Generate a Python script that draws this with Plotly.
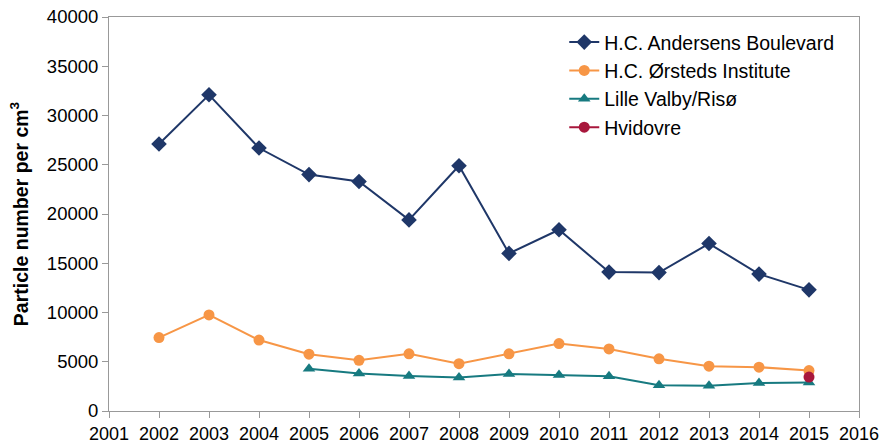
import plotly.graph_objects as go

years = list(range(2002, 2016))
andersens = [27100, 32100, 26700, 24000, 23300, 19400, 24900, 16000, 18400, 14100, 14050, 17000, 13900, 12300]
orsteds = [7450, 9750, 7200, 5770, 5150, 5800, 4800, 5800, 6850, 6300, 5300, 4550, 4450, 4100]
valby_years = list(range(2005, 2016))
valby = [4300, 3800, 3550, 3400, 3750, 3650, 3520, 2620, 2560, 2850, 2900]
hvidovre_years = [2015]
hvidovre = [3450]

fig = go.Figure()
fig.add_trace(go.Scatter(x=years, y=andersens, mode="lines+markers", name="H.C. Andersens Boulevard",
                         line=dict(color="#1f3768", width=2), marker=dict(symbol="diamond", size=12, color="#1f3768")))
fig.add_trace(go.Scatter(x=years, y=orsteds, mode="lines+markers", name="H.C. Ørsteds Institute",
                         line=dict(color="#f79646", width=2), marker=dict(symbol="circle", size=11, color="#f79646")))
fig.add_trace(go.Scatter(x=valby_years, y=valby, mode="lines+markers", name="Lille Valby/Risø",
                         line=dict(color="#177a80", width=2), marker=dict(symbol="triangle-up", size=11, color="#177a80")))
fig.add_trace(go.Scatter(x=hvidovre_years, y=hvidovre, mode="lines+markers", name="Hvidovre",
                         line=dict(color="#a8173c", width=2), marker=dict(symbol="circle", size=11, color="#a8173c")))

fig.update_layout(
    width=880, height=446,
    margin=dict(l=109, r=21, t=17, b=35, autoexpand=False),
    plot_bgcolor="white", paper_bgcolor="white",
    font=dict(family="Liberation Sans, Arial, sans-serif", size=18.5, color="#000000"),
    legend=dict(x=0.607, y=0.985, xanchor="left", yanchor="top", bgcolor="rgba(0,0,0,0)",
                font=dict(size=19.5), tracegroupgap=0, itemwidth=30),
    showlegend=True,
)
fig.update_xaxes(range=[2001, 2016], dtick=1, tick0=2001, showgrid=False, zeroline=False,
                 showline=True, linecolor="#999999", linewidth=1, mirror=True, automargin=False,
                 ticks="outside", ticklen=6, tickcolor="#999999", tickfont=dict(size=18))
fig.update_yaxes(range=[0, 40000], dtick=5000, tickformat="d", showgrid=False, zeroline=False,
                 showline=True, linecolor="#999999", linewidth=1, mirror=True, automargin=False,
                 ticks="outside", ticklen=6, tickcolor="#999999", tickfont=dict(size=18.5),
                 title=dict(text="<b>Particle number per cm<sup>3</sup></b>", font=dict(size=19.5), standoff=13))

fig.write_html("out.html", config={"displayModeBar": False},
               post_script="document.body.style.margin='0';document.body.style.overflow='hidden';")
